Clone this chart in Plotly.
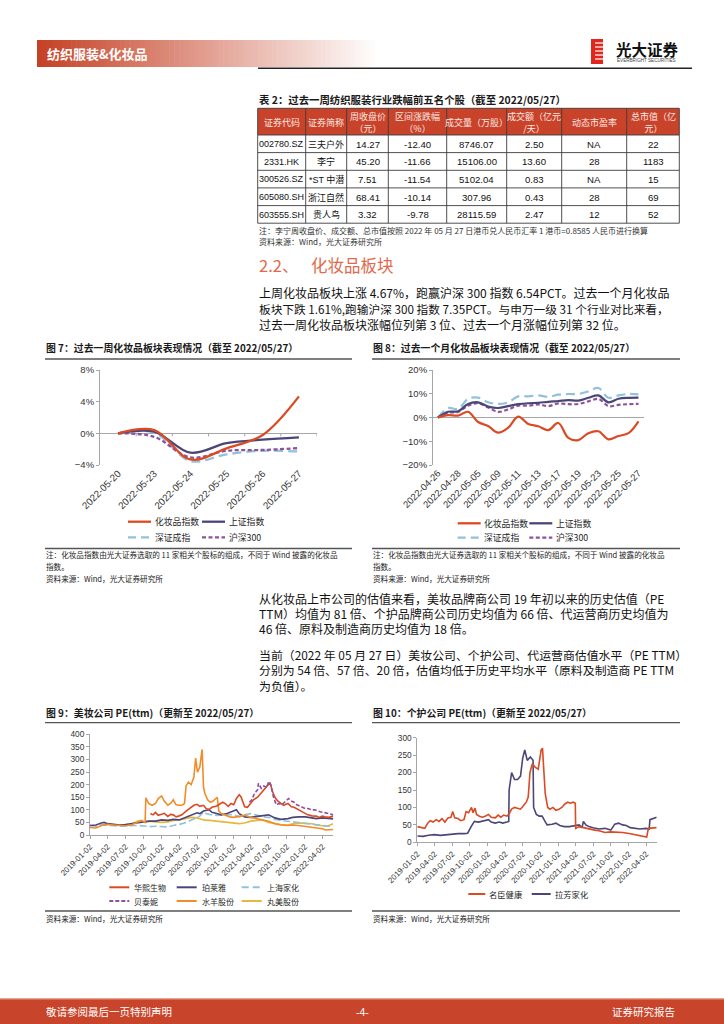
import plotly.graph_objects as go

W, H = 724, 1024
CJK = "Noto Sans CJK SC"
LAT = "Liberation Sans, Noto Sans CJK SC"

# ---------------- table data ----------------
tbl_header = ["证券代码", "证券简称", "周收盘价<br>（元）", "区间涨跌幅<br>（%）", "成交量（万股）",
              "成交额（亿元<br>/天）", "动态市盈率", "总市值（亿<br>元）"]
tbl_code = ["002780.SZ", "2331.HK", "300526.SZ", "605080.SH", "603555.SH"]
tbl_name = ["三夫户外", "李宁", "*ST 中潜", "浙江自然", "贵人鸟"]
tbl_close = ["14.27", "45.20", "7.51", "68.41", "3.32"]
tbl_change = ["-12.40", "-11.66", "-11.54", "-10.14", "-9.78"]
tbl_volume = ["8746.07", "15106.00", "5102.04", "307.96", "28115.59"]
tbl_amount = ["2.50", "13.60", "0.83", "0.43", "2.47"]
tbl_pe = ["NA", "28", "NA", "28", "12"]
tbl_mcap = ["22", "1183", "15", "69", "52"]

# ---------------- chart 7: past week (%) ----------------
c7_dates = ["2022-05-20", "2022-05-23", "2022-05-24", "2022-05-25", "2022-05-26", "2022-05-27"]
c7_cosmetics = [0, 0.4, -3.3, -1.9, -0.2, 4.67]
c7_shanghai = [0, 0.2, -2.45, -1.25, -0.8, -0.5]
c7_shenzhen = [0, 0.1, -3.5, -2.65, -2.2, -2.3]
c7_hs300 = [0, -0.45, -3.05, -2.2, -2.1, -1.87]

# ---------------- chart 8: past month (%) ----------------
c8_dates = ["2022-04-26", "2022-04-27", "2022-04-28", "2022-04-29", "2022-05-05", "2022-05-06",
            "2022-05-09", "2022-05-10", "2022-05-11", "2022-05-12", "2022-05-13", "2022-05-16",
            "2022-05-17", "2022-05-18", "2022-05-19", "2022-05-20", "2022-05-23", "2022-05-24",
            "2022-05-25", "2022-05-26", "2022-05-27"]
c8_ticks = ["2022-04-26", "2022-04-28", "2022-05-05", "2022-05-09", "2022-05-11", "2022-05-13",
            "2022-05-17", "2022-05-19", "2022-05-23", "2022-05-25", "2022-05-27"]
c8_cosmetics = [0, 1.0, 0.8, 2.4, -1.9, -3.6, -6.4, -4.3, 0.4, -2.7, -3.7, -5.3, -2.3, -8.6,
                -9.5, -6.6, -5.8, -9.2, -7.8, -6.6, -1.61]
c8_shanghai = [0, 2.4, 2.6, 5.7, 6.4, 4.6, 4.0, 4.8, 5.6, 6.0, 6.2, 6.6, 6.9, 7.3, 7.1, 8.3,
               9.3, 6.4, 7.9, 8.3, 8.4]
c8_shenzhen = [0, 4.0, 3.6, 7.9, 8.4, 6.4, 5.7, 6.4, 8.9, 8.9, 9.3, 8.7, 9.6, 9.9, 9.9, 11.0,
               12.4, 8.3, 9.3, 9.9, 9.7]
c8_hs300 = [0, 2.0, 2.3, 5.0, 6.0, 4.2, 2.4, 3.4, 5.0, 5.0, 5.5, 4.8, 5.9, 5.6, 5.7, 6.8,
            7.8, 4.8, 5.3, 5.6, 5.74]

# ---------------- chart 9 / 10: PE(ttm) ----------------
pe_ticks = ["2019-01-02", "2019-04-02", "2019-07-02", "2019-10-02", "2020-01-02", "2020-04-02",
            "2020-07-02", "2020-10-02", "2021-01-02", "2021-04-02", "2021-07-02", "2021-10-02",
            "2022-01-02", "2022-04-02"]

c9_huaxi = [("2019-11-06", 85), ("2019-11-20", 80), ("2019-12-02", 90), ("2019-12-16", 78),
            ("2020-01-02", 82), ("2020-01-16", 86), ("2020-02-03", 74), ("2020-02-17", 82),
            ("2020-03-02", 80), ("2020-03-16", 72), ("2020-04-01", 76), ("2020-04-15", 80),
            ("2020-05-06", 95), ("2020-05-18", 102), ("2020-06-01", 110), ("2020-06-15", 118),
            ("2020-07-01", 122), ("2020-07-15", 114), ("2020-08-03", 118), ("2020-08-17", 104),
            ("2020-09-01", 102), ("2020-09-15", 110), ("2020-10-09", 115), ("2020-10-26", 122),
            ("2020-11-09", 130), ("2020-11-23", 124), ("2020-12-07", 114), ("2020-12-21", 125),
            ("2021-01-04", 120), ("2021-01-18", 145), ("2021-02-01", 160), ("2021-02-10", 152),
            ("2021-03-01", 112), ("2021-03-15", 110), ("2021-04-01", 125), ("2021-04-15", 140),
            ("2021-05-06", 150), ("2021-05-17", 160), ("2021-06-01", 175), ("2021-06-15", 185),
            ("2021-07-01", 200), ("2021-07-08", 208), ("2021-07-20", 175), ("2021-08-02", 150),
            ("2021-08-16", 135), ("2021-09-01", 125), ("2021-09-15", 118), ("2021-10-08", 125),
            ("2021-10-25", 112), ("2021-11-08", 110), ("2021-11-22", 104), ("2021-12-06", 100),
            ("2021-12-20", 95), ("2022-01-04", 88), ("2022-01-17", 80), ("2022-02-07", 76),
            ("2022-03-01", 75), ("2022-03-15", 70), ("2022-04-01", 75), ("2022-04-15", 72),
            ("2022-05-05", 70), ("2022-05-27", 75)]
c9_proya = [("2019-01-02", 38), ("2019-02-01", 40), ("2019-03-01", 48), ("2019-03-15", 50),
            ("2019-04-01", 45), ("2019-05-02", 42), ("2019-06-03", 40), ("2019-07-01", 42),
            ("2019-08-01", 45), ("2019-09-02", 48), ("2019-10-08", 50), ("2019-11-01", 55),
            ("2019-12-02", 55), ("2020-01-02", 60), ("2020-02-03", 58), ("2020-03-02", 62),
            ("2020-04-01", 60), ("2020-05-06", 70), ("2020-06-01", 78), ("2020-07-01", 88),
            ("2020-07-15", 85), ("2020-08-03", 95), ("2020-09-01", 100), ("2020-09-15", 90),
            ("2020-10-09", 85), ("2020-11-02", 80), ("2020-12-01", 85), ("2021-01-04", 95),
            ("2021-01-18", 100), ("2021-02-01", 85), ("2021-03-01", 72), ("2021-04-01", 70),
            ("2021-05-06", 75), ("2021-06-01", 78), ("2021-07-01", 80), ("2021-08-02", 68),
            ("2021-09-01", 62), ("2021-10-08", 65), ("2021-11-01", 70), ("2021-12-01", 72),
            ("2022-01-04", 72), ("2022-02-07", 68), ("2022-03-01", 65), ("2022-04-01", 68),
            ("2022-05-05", 65), ("2022-05-27", 64)]
c9_jahwa = [("2019-01-02", 38), ("2019-02-01", 35), ("2019-03-01", 40), ("2019-04-01", 38),
            ("2019-05-02", 36), ("2019-06-03", 35), ("2019-07-01", 36), ("2019-08-01", 38),
            ("2019-09-02", 38), ("2019-10-08", 36), ("2019-11-01", 33), ("2019-12-02", 35),
            ("2020-01-02", 33), ("2020-02-03", 32), ("2020-03-02", 38), ("2020-04-01", 42),
            ("2020-05-06", 50), ("2020-06-01", 58), ("2020-07-01", 70), ("2020-07-15", 75),
            ("2020-08-03", 92), ("2020-08-17", 85), ("2020-09-01", 82), ("2020-10-09", 78),
            ("2020-11-02", 80), ("2020-12-01", 82), ("2021-01-04", 80), ("2021-02-01", 72),
            ("2021-03-01", 80), ("2021-04-01", 85), ("2021-05-06", 78), ("2021-06-01", 72),
            ("2021-07-01", 70), ("2021-08-02", 62), ("2021-09-01", 58), ("2021-10-08", 55),
            ("2021-11-01", 52), ("2021-12-01", 50), ("2022-01-04", 48), ("2022-02-07", 45),
            ("2022-03-01", 42), ("2022-04-01", 38), ("2022-05-05", 35), ("2022-05-27", 35)]
c9_botanee = [("2021-03-25", 130), ("2021-04-06", 140), ("2021-04-20", 165), ("2021-05-06", 180),
              ("2021-05-10", 205), ("2021-05-25", 185), ("2021-06-07", 195), ("2021-06-21", 188),
              ("2021-07-01", 212), ("2021-07-12", 200), ("2021-07-26", 150), ("2021-08-09", 120),
              ("2021-08-23", 125), ("2021-09-06", 120), ("2021-09-20", 130), ("2021-10-11", 145),
              ("2021-10-25", 135), ("2021-11-08", 130), ("2021-11-22", 120), ("2021-12-06", 115),
              ("2021-12-20", 110), ("2022-01-04", 105), ("2022-01-17", 105), ("2022-02-07", 100),
              ("2022-02-21", 100), ("2022-03-07", 95), ("2022-03-21", 92), ("2022-04-06", 90),
              ("2022-04-20", 88), ("2022-05-06", 85), ("2022-05-27", 80)]
c9_yujiahui = [("2019-01-02", 30), ("2019-02-01", 28), ("2019-03-01", 38), ("2019-04-01", 42),
               ("2019-05-02", 40), ("2019-06-03", 38), ("2019-07-01", 37), ("2019-08-01", 40),
               ("2019-09-02", 50), ("2019-09-20", 58), ("2019-10-10", 50), ("2019-10-14", 148),
               ("2019-10-28", 125), ("2019-11-15", 118), ("2019-12-02", 125), ("2019-12-16", 145),
               ("2020-01-02", 155), ("2020-01-16", 135), ("2020-02-03", 118), ("2020-02-17", 125),
               ("2020-03-02", 140), ("2020-03-16", 120), ("2020-04-01", 118), ("2020-04-15", 118),
               ("2020-04-28", 125), ("2020-05-06", 195), ("2020-05-18", 210), ("2020-06-01", 200),
               ("2020-06-15", 230), ("2020-06-24", 305), ("2020-07-03", 250), ("2020-07-15", 270),
               ("2020-07-27", 340), ("2020-08-03", 190), ("2020-08-10", 165), ("2020-08-24", 140),
               ("2020-09-07", 130), ("2020-09-21", 135), ("2020-10-12", 150), ("2020-10-20", 95),
               ("2020-11-02", 85), ("2020-11-16", 80), ("2020-12-01", 75), ("2020-12-15", 72),
               ("2021-01-04", 70), ("2021-02-01", 75), ("2021-03-01", 78), ("2021-04-01", 70),
               ("2021-05-06", 65), ("2021-06-01", 62), ("2021-07-01", 55), ("2021-08-02", 45),
               ("2021-09-01", 40), ("2021-10-08", 38), ("2021-11-01", 40), ("2021-12-01", 38),
               ("2022-01-04", 35), ("2022-02-07", 32), ("2022-03-01", 30), ("2022-04-01", 25),
               ("2022-04-18", 20), ("2022-05-27", 22)]
c9_marubi = [("2019-07-25", 40), ("2019-08-15", 48), ("2019-09-02", 55), ("2019-10-08", 52),
             ("2019-11-01", 55), ("2019-12-02", 52), ("2020-01-02", 50), ("2020-02-03", 52),
             ("2020-03-02", 58), ("2020-04-01", 60), ("2020-05-06", 65), ("2020-06-01", 70),
             ("2020-07-01", 68), ("2020-08-03", 60), ("2020-09-01", 58), ("2020-10-09", 55),
             ("2020-11-02", 52), ("2020-12-01", 50), ("2021-01-04", 48), ("2021-02-01", 45),
             ("2021-03-01", 48), ("2021-04-01", 55), ("2021-05-06", 58), ("2021-06-01", 60),
             ("2021-07-01", 50), ("2021-08-02", 45), ("2021-09-01", 42), ("2021-10-08", 40),
             ("2021-11-01", 45), ("2021-12-01", 48), ("2022-01-04", 47), ("2022-02-07", 45),
             ("2022-03-01", 40), ("2022-04-01", 38), ("2022-04-25", 35), ("2022-05-27", 45)]

c10_mingchen = [("2019-01-02", 45), ("2019-01-20", 42), ("2019-02-10", 40), ("2019-02-25", 55),
                ("2019-03-10", 62), ("2019-03-25", 58), ("2019-04-10", 65), ("2019-04-25", 60),
                ("2019-05-10", 68), ("2019-05-25", 58), ("2019-06-10", 70), ("2019-06-25", 72),
                ("2019-07-05", 88), ("2019-07-15", 70), ("2019-08-01", 68), ("2019-08-15", 62),
                ("2019-09-01", 65), ("2019-09-12", 88), ("2019-09-25", 85), ("2019-10-10", 100),
                ("2019-10-18", 85), ("2019-10-28", 98), ("2019-11-05", 80), ("2019-11-20", 75),
                ("2019-12-05", 72), ("2019-12-20", 75), ("2020-01-06", 80), ("2020-01-20", 72),
                ("2020-02-10", 70), ("2020-02-25", 78), ("2020-03-10", 72), ("2020-03-25", 78),
                ("2020-04-10", 75), ("2020-04-20", 80), ("2020-05-05", 95), ("2020-05-20", 100),
                ("2020-06-05", 98), ("2020-06-20", 95), ("2020-07-05", 105), ("2020-07-20", 115),
                ("2020-07-30", 130), ("2020-08-08", 200), ("2020-08-20", 225), ("2020-09-05", 215),
                ("2020-09-20", 210), ("2020-10-05", 265), ("2020-10-12", 270), ("2020-10-20", 200),
                ("2020-10-26", 140), ("2020-11-08", 100), ("2020-11-20", 95), ("2020-12-05", 100),
                ("2020-12-20", 92), ("2021-01-05", 95), ("2021-01-20", 100), ("2021-02-05", 110),
                ("2021-02-20", 115), ("2021-03-05", 112), ("2021-03-20", 115), ("2021-03-31", 112),
                ("2021-04-02", 40), ("2021-04-20", 45), ("2021-05-10", 42), ("2021-06-01", 40),
                ("2021-06-20", 38), ("2021-07-10", 35), ("2021-08-01", 33), ("2021-09-01", 28),
                ("2021-10-01", 30), ("2021-11-01", 30), ("2021-12-01", 28), ("2022-01-04", 25),
                ("2022-02-07", 22), ("2022-03-01", 20), ("2022-04-05", 15), ("2022-04-14", 40),
                ("2022-05-06", 40), ("2022-05-27", 42)]
c10_lafang = [("2019-01-02", 18), ("2019-02-01", 17), ("2019-03-01", 20), ("2019-04-01", 22),
              ("2019-05-02", 20), ("2019-06-03", 22), ("2019-07-01", 22), ("2019-08-01", 25),
              ("2019-09-02", 25), ("2019-09-20", 26), ("2019-10-08", 45), ("2019-10-25", 60),
              ("2019-11-15", 58), ("2019-12-05", 60), ("2019-12-20", 62), ("2020-01-06", 65),
              ("2020-01-20", 58), ("2020-02-10", 55), ("2020-03-01", 58), ("2020-03-20", 55),
              ("2020-04-10", 58), ("2020-04-20", 60), ("2020-04-22", 150), ("2020-05-05", 200),
              ("2020-05-20", 180), ("2020-06-05", 180), ("2020-06-20", 190), ("2020-07-01", 240),
              ("2020-07-12", 265), ("2020-07-25", 235), ("2020-08-10", 245), ("2020-08-24", 235),
              ("2020-08-27", 100), ("2020-09-10", 80), ("2020-09-25", 75), ("2020-10-10", 75),
              ("2020-10-25", 60), ("2020-11-05", 50), ("2020-12-01", 52), ("2020-12-20", 55),
              ("2021-01-10", 48), ("2021-02-01", 45), ("2021-03-01", 45), ("2021-04-01", 48),
              ("2021-04-20", 50), ("2021-05-05", 42), ("2021-05-12", 60), ("2021-05-25", 50),
              ("2021-06-10", 45), ("2021-07-01", 42), ("2021-08-01", 38), ("2021-09-01", 40),
              ("2021-10-01", 35), ("2021-10-22", 52), ("2021-11-10", 55), ("2021-12-01", 50),
              ("2021-12-20", 48), ("2022-01-10", 42), ("2022-02-07", 40), ("2022-03-01", 38),
              ("2022-04-01", 40), ("2022-04-18", 38), ("2022-04-22", 65), ("2022-05-10", 68),
              ("2022-05-27", 72)]

# ---------------- helpers ----------------
def fx(x):
    return x / W


def fy(y):
    return 1 - y / H


shapes, annotations = [], []


def text(x, y, s, size, color="#1a1a1a", family=CJK, anchor="left"):
    annotations.append(dict(x=fx(x), y=fy(y), xref="paper", yref="paper", text=s, showarrow=False,
                            xanchor=anchor, yanchor="middle", borderpad=0,
                            font=dict(family=family, size=size, color=color)))


def hline(x0, x1, y, color, width, dash="solid"):
    shapes.append(dict(type="line", xref="paper", yref="paper", x0=fx(x0), x1=fx(x1),
                       y0=fy(y), y1=fy(y), line=dict(color=color, width=width, dash=dash)))


def vline(x, y0, y1, color, width):
    shapes.append(dict(type="line", xref="paper", yref="paper", x0=fx(x), x1=fx(x),
                       y0=fy(y0), y1=fy(y1), line=dict(color=color, width=width)))


def rect(x0, y0, x1, y1, color, layer="below"):
    shapes.append(dict(type="rect", xref="paper", yref="paper", x0=fx(x0), x1=fx(x1),
                       y0=fy(y1), y1=fy(y0), fillcolor=color, line=dict(width=0), layer=layer))


RED = "#DB4A22"
NAVY = "#4A4678"
LBLUE = "#92C1DB"
PURPLE = "#8E519E"
ORANGE = "#F28C28"
GOLD = "#E6B83E"
AX = "#A6A6A6"

fig = go.Figure()

# ---------------- chart traces ----------------
def add_lines(xs, series, xa, ya, width, shape="linear"):
    for name, ys, color, dash in series:
        fig.add_trace(go.Scatter(x=xs, y=ys, name=name, mode="lines", xaxis=xa, yaxis=ya,
                                 line=dict(color=color, width=width, dash=dash, shape=shape),
                                 showlegend=False, hoverinfo="skip"))


c7_series = [("深证成指", c7_shenzhen, LBLUE, "9px,5px"), ("沪深300", c7_hs300, PURPLE, "4px,2.5px"),
             ("上证指数", c7_shanghai, NAVY, "solid"), ("化妆品指数", c7_cosmetics, RED, "solid")]
add_lines(c7_dates, c7_series, "x", "y", 2.3, "spline")

c8_series = [("深证成指", c8_shenzhen, LBLUE, "9px,5px"), ("沪深300", c8_hs300, PURPLE, "4px,2.5px"),
             ("上证指数", c8_shanghai, NAVY, "solid"), ("化妆品指数", c8_cosmetics, RED, "solid")]
add_lines(c8_dates, c8_series, "x2", "y2", 2.2, "spline")

c9_series = [("丸美股份", c9_marubi, GOLD, "solid"), ("上海家化", c9_jahwa, LBLUE, "7px,3px"),
             ("珀莱雅", c9_proya, NAVY, "solid"), ("水羊股份", c9_yujiahui, ORANGE, "solid"),
             ("华熙生物", c9_huaxi, RED, "solid"), ("贝泰妮", c9_botanee, PURPLE, "4px,2px")]
for name, pts, color, dash in c9_series:
    fig.add_trace(go.Scatter(x=[p[0] for p in pts], y=[p[1] for p in pts], name=name, mode="lines",
                             xaxis="x3", yaxis="y3", line=dict(color=color, width=1.6, dash=dash),
                             showlegend=False, hoverinfo="skip"))

c10_series = [("拉芳家化", c10_lafang, NAVY, "solid"), ("名臣健康", c10_mingchen, RED, "solid")]
for name, pts, color, dash in c10_series:
    fig.add_trace(go.Scatter(x=[p[0] for p in pts], y=[p[1] for p in pts], name=name, mode="lines",
                             xaxis="x4", yaxis="y4", line=dict(color=color, width=1.6, dash=dash),
                             showlegend=False, hoverinfo="skip"))

# chart 7 boundary ticks on the zero line
for k in range(len(c7_dates)):
    shapes.append(dict(type="line", xref="x", yref="y", x0=k + 0.5, x1=k + 0.5, y0=0, y1=-0.38,
                       line=dict(color=AX, width=1)))


# ---------------- axes ----------------
def yaxis(x_anchor, d0, d1, rng, dtick, suffix, size, zero):
    return dict(anchor=x_anchor, domain=[fy(d1), fy(d0)], range=rng, dtick=dtick, ticksuffix=suffix,
                showgrid=False, zeroline=zero, zerolinecolor=AX, zerolinewidth=1, automargin=False,
                showline=True, linecolor=AX, linewidth=1, ticks="outside", ticklen=3, tickcolor=AX,
                tickfont=dict(family=LAT, size=size, color="#333333"), fixedrange=True)


def xaxis(y_anchor, d0, d1, **kw):
    base = dict(anchor=y_anchor, domain=[fx(d0), fx(d1)], showgrid=False, zeroline=False,
                tickangle=-45, fixedrange=True, automargin=False)
    base.update(kw)
    return base


layout = dict(
    template="none",
    width=W, height=H, margin=dict(l=0, r=0, t=0, b=0, pad=0, autoexpand=False), autosize=False,
    paper_bgcolor="white", plot_bgcolor="rgba(0,0,0,0)", showlegend=False,
    xaxis=xaxis("y", 100, 317, type="category", range=[-0.5, 5.5], showline=False, ticks="",
                tickfont=dict(family=LAT, size=9.8, color="#333333")),
    yaxis=yaxis("x", 370, 465, [-4, 8], 4, "%", 9.5, True),
    xaxis2=xaxis("y2", 433, 643.5, type="category", range=[-0.5, 20.5], showline=False, ticks="",
                 tickvals=c8_ticks, ticktext=c8_ticks,
                 tickfont=dict(family=LAT, size=9.5, color="#333333")),
    yaxis2=yaxis("x2", 370, 465, [-20, 20], 10, "%", 9.5, True),
    xaxis3=xaxis("y3", 90, 333.3, type="date", range=["2019-01-02", "2022-05-27"], tickvals=pe_ticks,
                 ticktext=pe_ticks, showline=True, linecolor=AX, ticks="outside", ticklen=3,
                 tickcolor=AX, tickfont=dict(family=LAT, size=8, color="#333333")),
    yaxis3=yaxis("x3", 734.3, 835, [0, 400], 50, "", 8.3, False),
    xaxis4=xaxis("y4", 417.3, 656.7, type="date", range=["2019-01-02", "2022-05-27"], tickvals=pe_ticks,
                 ticktext=pe_ticks, showline=True, linecolor=AX, ticks="outside", ticklen=3,
                 tickcolor=AX, tickfont=dict(family=LAT, size=8, color="#333333")),
    yaxis4=yaxis("x4", 737.7, 842.3, [0, 300], 50, "", 8.3, False),
)

# ---------------- page decoration ----------------
# header gradient band
N = 70
x0b, x1b = 37, 380
c0 = (198, 66, 38)
for i in range(N):
    t = i / (N - 1)
    col = tuple(int(c0[j] + (255 - c0[j]) * t) for j in range(3))
    rect(x0b + (x1b - x0b) * i / N, 40, x0b + (x1b - x0b) * (i + 1) / N + 0.6, 67,
         "rgb(%d,%d,%d)" % col)
text(46, 53.5, "<b>纺织服装&化妆品</b>", 13, "white")
hline(258, 692, 68.3, "#222222", 1.5)
# logo
rect(591, 39, 603, 64, "#E1261C", layer="above")
for yy in [43, 47, 51, 55, 59]:
    hline(595, 603.5, yy, "white", 1.2)
text(615, 49, "<b>光大证券</b>", 15.5, "#111111")
text(616, 60.5, "EVERBRIGHT SECURITIES", 4.6, "#444444", LAT)

# ---------------- table (drawn cell by cell) ----------------
tcols = [257.7, 305.7, 346.7, 388.3, 446.7, 506.7, 561.7, 626.7, 679.3]
trows = [108.3, 135.0, 152.6, 170.3, 187.9, 205.6, 223.2]
cell_sizes = [9.0, 9.0, 9.6, 9.6, 9.6, 9.6, 9.6, 9.6]
rect(tcols[0], trows[0], tcols[-1], trows[1], "#C8432A")
for xx in tcols:
    vline(xx, trows[0], trows[-1], "#3c3c3c", 0.9)
for yy in trows:
    hline(tcols[0], tcols[-1], yy, "#3c3c3c", 0.9)
tbl_columns = [tbl_code, tbl_name, tbl_close, tbl_change, tbl_volume, tbl_amount, tbl_pe, tbl_mcap]
for j, head in enumerate(tbl_header):
    cx = (tcols[j] + tcols[j + 1]) / 2
    text(cx, (trows[0] + trows[1]) / 2 + 0.5, head, 9.0, "#FBE9E4", CJK, "center")
    for i, val in enumerate(tbl_columns[j]):
        text(cx, (trows[i + 1] + trows[i + 2]) / 2 + 0.3, val, cell_sizes[j], "#111111", LAT, "center")

# table title and notes
text(258, 99, "<b>表 2：过去一周纺织服装行业跌幅前五名个股（截至 2022/05/27）</b>", 10.4)
text(258, 230, "注：李宁周收盘价、成交额、总市值按照 2022 年 05 月 27 日港币兑人民币汇率 1 港币=0.8585 人民币进行换算",
     8.0, "#333333")
text(258, 241, "资料来源：Wind，光大证券研究所", 8.0, "#333333")

# section heading and paragraph
text(258, 265, "2.2、", 16.5, "#E2694B")
text(310, 265, "化妆品板块", 16.5, "#E2694B")
body = ["上周化妆品板块上涨 4.67%，跑赢沪深 300 指数 6.54PCT。过去一个月化妆品",
        "板块下跌 1.61%,跑输沪深 300 指数 7.35PCT。与申万一级 31 个行业对比来看，",
        "过去一周化妆品板块涨幅位列第 3 位、过去一个月涨幅位列第 32 位。"]
body_sizes = [12.0, 11.7, 12.0]
for i, line in enumerate(body):
    text(258, 292.5 + 16 * i, line, body_sizes[i], "#111111")

# chart frames
for (xl, xr) in [(45, 352), (372, 680)]:
    hline(xl, xr, 359, "#555555", 1.3)
    hline(xl, xr, 548.5, "#555555", 1.3)
    hline(xl, xr, 722.7, "#555555", 1.3)
    hline(xl, xr, 911, "#555555", 1.3)

text(45, 347.5, "<b>图 7：过去一周化妆品板块表现情况（截至 2022/05/27）</b>", 9.9)
text(372, 347.5, "<b>图 8：过去一个月化妆品板块表现情况（截至 2022/05/27）</b>", 9.9)
text(45, 712.5, "<b>图 9：美妆公司 PE(ttm)（更新至 2022/05/27）</b>", 9.9)
text(372, 712.5, "<b>图 10：个护公司 PE(ttm)（更新至 2022/05/27）</b>", 9.9)

for xl in [45, 372]:
    text(xl, 554, "注：化妆品指数由光大证券选取的 11 家相关个股标的组成，不同于 Wind 披露的化妆品", 7.6, "#222222")
    text(xl, 566, "指数。", 7.6, "#222222")
    text(xl, 578.5, "资料来源：Wind，光大证券研究所", 7.6, "#222222")
    text(xl, 918.5, "资料来源：Wind，光大证券研究所", 7.6, "#222222")

para2 = ["从化妆品上市公司的估值来看，美妆品牌商公司 19 年初以来的历史估值（PE",
         "TTM）均值为 81 倍、个护品牌商公司历史均值为 66 倍、代运营商历史均值为",
         "46 倍、原料及制造商历史均值为 18 倍。"]
para3 = ["当前（2022 年 05 月 27 日）美妆公司、个护公司、代运营商估值水平（PE TTM）",
         "分别为 54 倍、57 倍、20 倍，估值均低于历史平均水平（原料及制造商 PE TTM",
         "为负值）。"]
for i, line in enumerate(para2):
    text(258, 598 + 15.3 * i, line, 12.0, "#111111")
for i, line in enumerate(para3):
    text(258, 654.5 + 15.3 * i, line, 11.9, "#111111")


# manual legends
def legend_item(xl, y, length, color, dash, width, label, size, gap=3):
    hline(xl, xl + length, y, color, width, dash)
    text(xl + length + gap, y, label, size, "#262626")


for xl_row in [(128, 202, 521.7, 537.3), (457.7, 529.3, 523.3, 537.7)]:
    a, b, r1, r2 = xl_row
    legend_item(a, r1, 23, RED, "solid", 2.3, "化妆品指数", 8.8, 2.5)
    legend_item(b, r1, 23, NAVY, "solid", 2.3, "上证指数", 8.8, 2.5)
    legend_item(a, r2, 23, LBLUE, "8px,5px", 2.3, "深证成指", 8.8, 2.5)
    legend_item(b, r2, 23, PURPLE, "4px,2.5px", 2.3, "沪深300", 8.8, 2.5)

legend_item(109.3, 887.3, 20, RED, "solid", 2, "华熙生物", 8, 4)
legend_item(176.7, 887.3, 20, NAVY, "solid", 2, "珀莱雅", 8, 4)
legend_item(241.7, 887.3, 20, LBLUE, "7px,4px", 2, "上海家化", 8, 4)
legend_item(109.3, 901, 20, PURPLE, "4px,2px", 2, "贝泰妮", 8, 4)
legend_item(176.7, 901, 20, ORANGE, "solid", 2, "水羊股份", 8, 4)
legend_item(241.7, 901, 20, GOLD, "solid", 2, "丸美股份", 8, 4)

legend_item(468.3, 894, 17, RED, "solid", 2, "名臣健康", 8.3, 3)
legend_item(531.7, 894, 19, NAVY, "solid", 2, "拉芳家化", 8.3, 3)

# footer
rect(0, 998, 724, 999.2, "#E9A48F")
rect(0, 999.2, 724, 1024, "#C8442A")
text(45, 1011.5, "敬请参阅最后一页特别声明", 10.5, "white")
text(362, 1011.5, "-4-", 10.5, "white", LAT, "center")
text(676, 1011.5, "证券研究报告", 10.5, "white", CJK, "right")

layout["shapes"] = shapes
layout["annotations"] = annotations
fig.update_layout(**layout)

fig.write_html("out.html", config={"displayModeBar": False},
               post_script="document.body.style.margin='0';document.body.style.overflow='hidden';")
